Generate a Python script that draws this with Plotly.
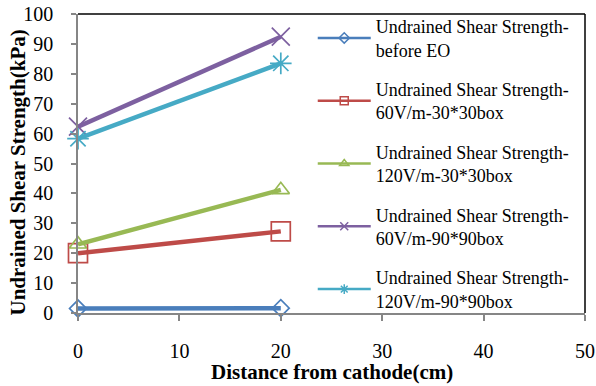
import plotly.graph_objects as go

distance = [0, 20]
before_eo = [1.5, 1.6]
v60_30 = [20, 27.3]
v120_30 = [23, 41.2]
v60_90 = [62.3, 92.4]
v120_90 = [58.3, 83.5]

names = [
    "Undrained Shear Strength-<br>before EO",
    "Undrained Shear Strength-<br>60V/m-30*30box",
    "Undrained Shear Strength-<br>120V/m-30*30box",
    "Undrained Shear Strength-<br>60V/m-90*90box",
    "Undrained Shear Strength-<br>120V/m-90*90box",
]
series = [before_eo, v60_30, v120_30, v60_90, v120_90]
colors = ["#4A7EBB", "#BE4B48", "#98B954", "#7D60A0", "#46AAC5"]
symbols = ["diamond-open", "square-open", "triangle-up-open", "x-thin-open", "asterisk-open"]
msizes = [13, 19, 15, 18, 18]

fig = go.Figure()
for i, (nm, ys, c, sym, ms) in enumerate(zip(names, series, colors, symbols, msizes)):
    fig.add_trace(go.Scatter(
        x=distance, y=ys, mode="lines+markers", showlegend=False,
        line=dict(color=c, width=4.5),
        marker=dict(symbol=sym, size=ms, color=c, line=dict(color=c, width=1.7)),
        cliponaxis=False,
    ))
for i, (nm, c, sym) in enumerate(zip(names, colors, symbols)):
    fig.add_trace(go.Scatter(
        x=[None], y=[None], mode="lines+markers", name=nm, legendgroup=str(i),
        line=dict(color=c, width=2.5),
        marker=dict(symbol=sym, size=8, color=c, line=dict(color=c, width=1.5)),
    ))

font = "Liberation Serif, Times New Roman, serif"
fig.update_layout(
    width=596, height=386,
    margin=dict(l=78, r=11, t=14, b=73, autoexpand=False),
    paper_bgcolor="white", plot_bgcolor="white",
    font=dict(family=font, color="black", size=20),
    legend=dict(
        x=0.463, y=1.02, xanchor="left", yanchor="top",
        font=dict(family=font, size=18, color="black"),
        bgcolor="rgba(0,0,0,0)", borderwidth=0,
        traceorder="grouped", tracegroupgap=13, itemwidth=53,
        maxheight=380,
    ),
    xaxis=dict(
        range=[0, 50], tickvals=[0, 10, 20, 30, 40, 50],
        showgrid=False, zeroline=False, showline=True, linecolor="#868686", linewidth=1.5,
        ticks="outside", ticklen=6, tickcolor="#868686", tickwidth=1.5,
        ticklabelstandoff=13, automargin=False,
        tickfont=dict(family=font, size=20),
    ),
    yaxis=dict(
        range=[0, 100], tickvals=list(range(0, 101, 10)),
        showgrid=False, zeroline=False, showline=True, linecolor="#868686", linewidth=1.5,
        ticks="outside", ticklen=5, tickcolor="#868686", tickwidth=1.5,
        ticklabelstandoff=14, automargin=False,
        tickfont=dict(family=font, size=20),
    ),
    annotations=[
        dict(text="<b>Distance from cathode(cm)</b>", xref="paper", yref="paper",
             x=0.5, y=-59 / 299, xanchor="center", yanchor="middle", showarrow=False,
             font=dict(family=font, size=21, color="black")),
        dict(text="<b>Undrained Shear Strength(kPa)</b>", xref="paper", yref="paper",
             x=-60 / 507, y=0.47, xanchor="center", yanchor="middle", showarrow=False, textangle=-90,
             font=dict(family=font, size=21, color="black")),
    ],
    shapes=[
        dict(type="line", xref="paper", yref="paper", x0=0, x1=1, y0=1, y1=1, line=dict(color="black", width=1.5)),
        dict(type="line", xref="paper", yref="paper", x0=1, x1=1, y0=0, y1=1, line=dict(color="black", width=1.5)),
    ],
)

fig.write_html("out.html", config={"displayModeBar": False},
               post_script="document.body.style.margin='0';")
